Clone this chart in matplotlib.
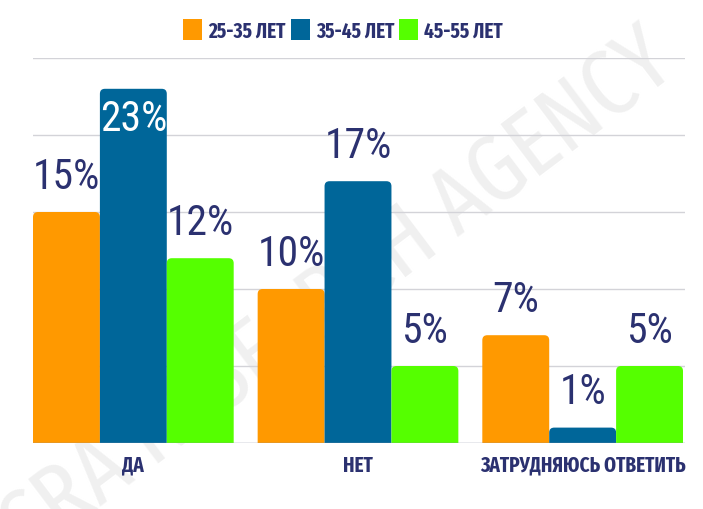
import numpy as np
import matplotlib.pyplot as plt
from matplotlib.patches import FancyBboxPatch, Patch

plt.rcParams['font.family'] = ['Roboto Condensed', 'DejaVu Sans']

# data
categories = ['ДА', 'НЕТ', 'ЗАТРУДНЯЮСЬ ОТВЕТИТЬ']
series_names = ['25-35 ЛЕТ', '35-45 ЛЕТ', '45-55 ЛЕТ']
v_25_35 = [15, 10, 7]
v_35_45 = [23, 17, 1]
v_45_55 = [12, 5, 5]
values = [v_25_35, v_35_45, v_45_55]
colors = ['#FF9900', '#006699', '#55FF00']
navy = '#2B3170'
label_font = ['Fira Sans Extra Condensed', 'Roboto Condensed', 'DejaVu Sans']

fig = plt.figure(figsize=(7.03, 5.10), dpi=100)
ax = fig.add_axes([33 / 703, 66 / 510, 652 / 703, 385 / 510])
ax.patch.set_visible(False)

x = np.arange(len(categories))
w = 67 / 225
ax.set_xlim(-100.5 / 225, 2 + 102.5 / 225)
ax.set_ylim(0, 25)

# rounded top corners
px_x = 1 / 225
px_y = 25 / 385
r = 5 * px_x
aspect = px_y / px_x

for i, vals in enumerate(values):
    for j, v in enumerate(vals):
        left = x[j] + (i - 1) * w - w / 2
        p = FancyBboxPatch((left, -1), w, v + 1,
                           boxstyle=f'round,pad=0,rounding_size={r}',
                           mutation_aspect=aspect,
                           fc=colors[i], ec='none', zorder=3)
        ax.add_patch(p)
        cx = left + w / 2
        if v > 20:
            ax.text(cx, v - 0.6, f'{v}%', ha='center', va='top',
                    color='white', fontsize=30, zorder=4)
        else:
            ax.text(cx, v + 1.0, f'{v}%', ha='center', va='bottom',
                    color=navy, fontsize=30, zorder=4)

# grid
for yy in range(5, 26, 5):
    ax.axhline(yy, color='#D3D3D8', lw=1, zorder=1)
ax.axhline(0, color='#8A8FA8', lw=1, zorder=4)

for s in ax.spines.values():
    s.set_visible(False)
ax.set_yticks([])
ax.set_xticks(x)
ax.set_xticklabels(categories, fontsize=15, fontweight='bold', color=navy,
                   family=label_font)
ax.tick_params(axis='x', length=0, pad=8)

# watermark, behind the bars
ax.text(0.48, 0.42, 'CRA RESEARCH AGENCY', rotation=37, fontsize=68,
        color='#F0F0F0', ha='center', va='center', zorder=0.5,
        family=label_font, transform=fig.transFigure, clip_on=False)

# legend
handles = [Patch(fc=c, ec='none') for c in colors]
fig.legend(handles, series_names, loc='center', bbox_to_anchor=(0.488, 0.94),
           ncol=3, frameon=False, handlelength=0.9, handleheight=1.2,
           handletextpad=0.3, columnspacing=0.25,
           prop={'size': 15, 'weight': 'bold', 'family': label_font},
           labelcolor=navy)

fig.savefig('out.png', dpi=100)
